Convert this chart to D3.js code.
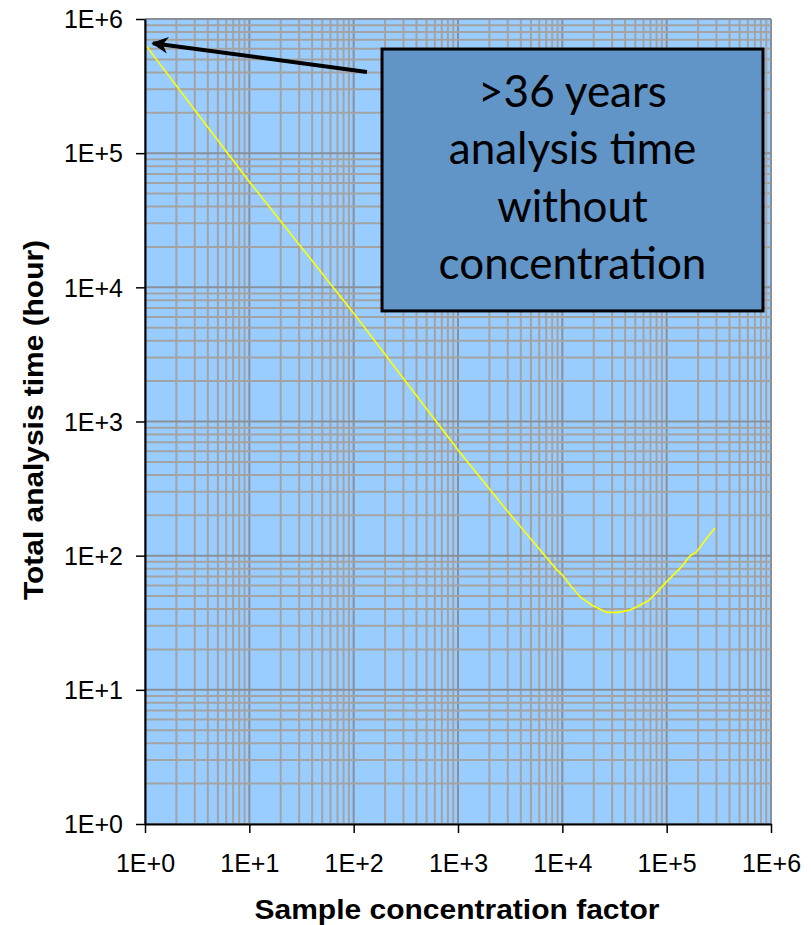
<!DOCTYPE html>
<html>
<head>
<meta charset="utf-8">
<script src="https://cdn.jsdelivr.net/npm/d3@7"></script>
<style>
  html, body { margin: 0; padding: 0; background: #ffffff; }
  svg { display: block; }
</style>
</head>
<body>
<svg id="chart" width="811" height="925"></svg>
<script>
// ---- data ----
const concentrationFactor = [1, 3, 10, 30, 100, 300, 1000, 3000, 7620, 8830, 9860, 11840, 14760, 19100, 26600, 34400, 44500, 53500, 66700, 80200, 100000, 139000, 167000, 194000, 242000, 290000];
const analysisTimeHours = [647000, 210000, 61300, 20900, 6410, 2090, 614, 213, 90.2, 78.2, 73, 60.4, 49.4, 42.9, 37.8, 37.8, 39.4, 42.2, 46.1, 53, 64, 82.8, 99.5, 107, 135, 161];
const xTickValues = [1, 10, 100, 1000, 10000, 100000, 1000000];
const xTickLabels = ["1E+0", "1E+1", "1E+2", "1E+3", "1E+4", "1E+5", "1E+6"];
const yTickValues = [1, 10, 100, 1000, 10000, 100000, 1000000];
const yTickLabels = ["1E+0", "1E+1", "1E+2", "1E+3", "1E+4", "1E+5", "1E+6"];
const annotationLines = [">36 years", "analysis time", "without", "concentration"];
const xTitle = "Sample concentration factor";
const yTitle = "Total analysis time (hour)";

// ---- layout ----
const svg = d3.select("#chart");
const L = 145, R = 771, T = 19, B = 824;

const x = d3.scaleLog().domain([1, 1e6]).range([L, R]);
const y = d3.scaleLog().domain([1, 1e6]).range([B, T]);

// plot background
svg.append("rect").attr("x", L).attr("y", T).attr("width", R - L).attr("height", B - T)
  .attr("fill", "#99ccff");

// grid values (1..9 x 10^k)
const gridVals = [];
for (let k = 0; k < 6; k++) for (let m = 1; m <= 9; m++) gridVals.push(m * Math.pow(10, k));
gridVals.push(1e6);
const isMajor = v => Math.abs(Math.log10(v) - Math.round(Math.log10(v))) < 1e-9;

const grid = svg.append("g");
grid.selectAll("line.v").data(gridVals).join("line")
  .attr("x1", d => x(d)).attr("x2", d => x(d)).attr("y1", T).attr("y2", B)
  .attr("stroke", d => isMajor(d) ? "#8a9098" : "#a3a3a3")
  .attr("stroke-width", 2);
grid.selectAll("line.h").data(gridVals).join("line")
  .attr("y1", d => y(d)).attr("y2", d => y(d)).attr("x1", L).attr("x2", R)
  .attr("stroke", d => isMajor(d) ? "#8a9098" : "#a3a3a3")
  .attr("stroke-width", 2);

// curve
const line = d3.line().x((d, i) => x(concentrationFactor[i])).y(d => y(d));
svg.append("path").datum(analysisTimeHours)
  .attr("d", line).attr("fill", "none").attr("stroke", "#ffff00").attr("stroke-width", 1.6);

// axes
const xAxis = d3.axisBottom(x).tickValues(xTickValues)
  .tickFormat((d, i) => xTickLabels[i]).tickSize(9).tickSizeOuter(0);
const gx = svg.append("g").attr("transform", `translate(0,${B})`).call(xAxis);
gx.select(".domain").attr("stroke", "#000").attr("stroke-width", 2);
gx.selectAll(".tick line").attr("stroke", "#000").attr("stroke-width", 1.5);
gx.selectAll(".tick text").attr("font-family", "'Liberation Sans', Arial, sans-serif")
  .attr("font-size", 25).attr("fill", "#000").attr("dy", null).attr("y", 48);

const yAxis = d3.axisLeft(y).tickValues(yTickValues)
  .tickFormat((d, i) => yTickLabels[i]).tickSize(9).tickSizeOuter(0);
const gy = svg.append("g").attr("transform", `translate(${L},0)`).call(yAxis);
gy.select(".domain").attr("stroke", "#000").attr("stroke-width", 2);
gy.selectAll(".tick line").attr("stroke", "#000").attr("stroke-width", 1.5);
gy.selectAll(".tick text").attr("font-family", "'Liberation Sans', Arial, sans-serif")
  .attr("font-size", 25).attr("fill", "#000").attr("x", -22).attr("dy", "0.35em");

// axis titles
svg.append("text").attr("x", 457).attr("y", 919)
  .attr("text-anchor", "middle")
  .attr("font-family", "'Liberation Sans', Arial, sans-serif").attr("font-weight", "bold")
  .attr("font-size", 27).attr("fill", "#000")
  .attr("textLength", 405).attr("lengthAdjust", "spacingAndGlyphs")
  .text(xTitle);

svg.append("text").attr("transform", `translate(43,${420}) rotate(-90)`)
  .attr("text-anchor", "middle")
  .attr("font-family", "'Liberation Sans', Arial, sans-serif").attr("font-weight", "bold")
  .attr("font-size", 28).attr("fill", "#000")
  .attr("textLength", 360).attr("lengthAdjust", "spacingAndGlyphs")
  .text(yTitle);

// annotation arrow (positioned in data space)
const arrowTail = { cx: 134, cy: 4.03e5 };
const arrowTip = { cx: 1.19, cy: 6.6e5 };
const defs = svg.append("defs");
defs.append("marker").attr("id", "ah").attr("viewBox", "0 0 10 10")
  .attr("refX", 9).attr("refY", 5).attr("markerWidth", 4.2).attr("markerHeight", 4.2)
  .attr("orient", "auto")
  .append("path").attr("d", "M0,0 L10,5 L0,10 L3,5 Z").attr("fill", "#000");
svg.append("line")
  .attr("x1", x(arrowTail.cx)).attr("y1", y(arrowTail.cy))
  .attr("x2", x(arrowTip.cx)).attr("y2", y(arrowTip.cy))
  .attr("stroke", "#000").attr("stroke-width", 4).attr("marker-end", "url(#ah)");

// annotation box (data-space corners)
const boxX0 = 187, boxX1 = 838000, boxY0 = 5.97e5, boxY1 = 6670;
svg.append("rect")
  .attr("x", x(boxX0)).attr("y", y(boxY0))
  .attr("width", x(boxX1) - x(boxX0)).attr("height", y(boxY1) - y(boxY0))
  .attr("fill", "#6194c7").attr("stroke", "#000").attr("stroke-width", 3);
const boxCx = (x(boxX0) + x(boxX1)) / 2;
svg.append("g").selectAll("text").data(annotationLines).join("text")
  .attr("x", boxCx).attr("y", (d, i) => 107 + i * 57.3)
  .attr("text-anchor", "middle")
  .attr("font-family", "Lato, 'Open Sans', sans-serif")
  .attr("font-size", 44).attr("fill", "#000")
  .text(d => d);
</script>
</body>
</html>
